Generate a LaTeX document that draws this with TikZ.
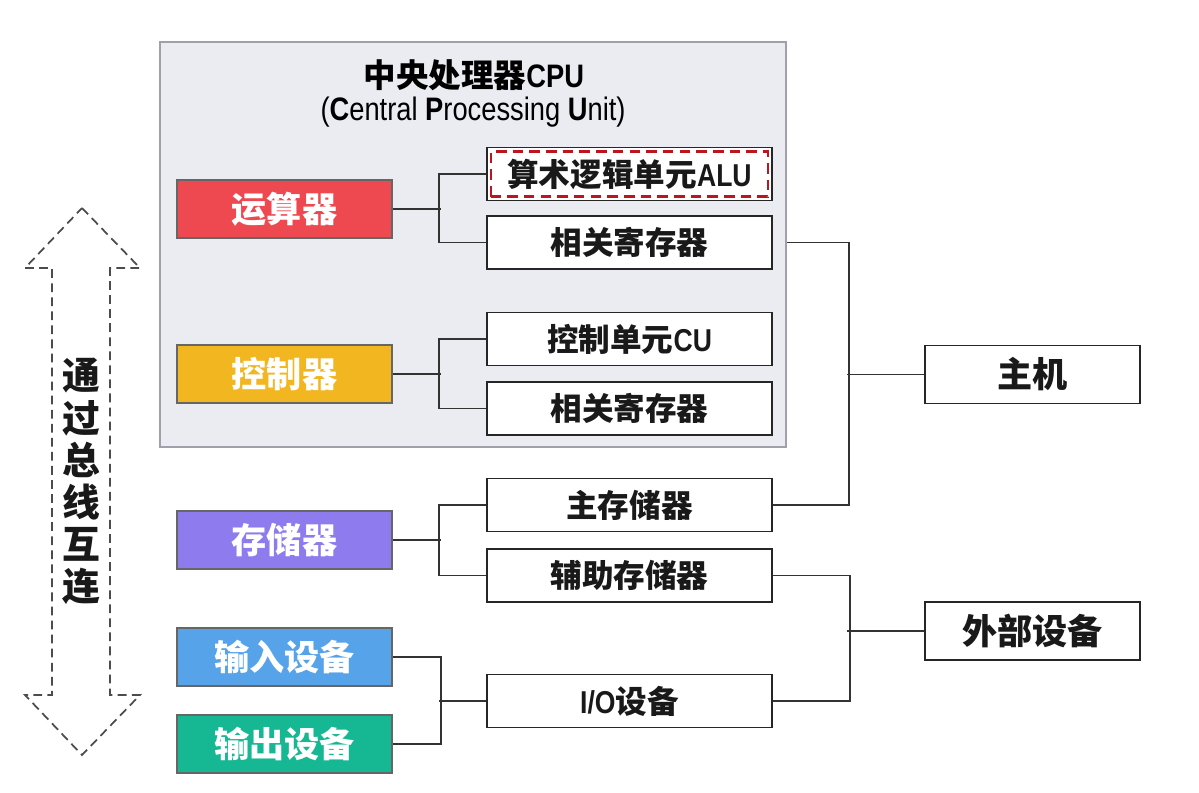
\documentclass[tikz,border=0pt]{standalone}
\usepackage{fontspec}
\newfontfamily\cjk{Noto Sans CJK SC}
\newfontfamily\narrowfont[FakeStretch=0.84]{Liberation Sans}
\usetikzlibrary{calc}
\definecolor{ysqred}{RGB}{238,72,80}
\definecolor{ctlyellow}{RGB}{242,182,32}
\definecolor{mempurple}{RGB}{142,124,238}
\definecolor{inblue}{RGB}{86,163,234}
\definecolor{outgreen}{RGB}{22,184,148}
\definecolor{cpubg}{RGB}{235,235,242}
\definecolor{cpuline}{RGB}{160,160,170}
\definecolor{aludash}{RGB}{190,20,30}

\begin{document}
\begin{tikzpicture}[x=0.02cm,y=-0.02cm,line width=1.1pt,
colbox/.style={draw=black!60,minimum width=4.3cm,minimum height=1.16cm,text=white,
  font=\cjk\bfseries\fontsize{20}{24}\selectfont},
partbox/.style={draw=black!85,fill=white,minimum width=5.7cm,minimum height=1.06cm,
  text=black!90,font=\cjk\bfseries\fontsize{18}{22}\selectfont},
sysbox/.style={partbox,minimum width=4.3cm,minimum height=1.16cm,
  font=\cjk\bfseries\fontsize{20}{24}\selectfont}]
\useasboundingbox(0,0)rectangle(1199,793);
% CPU frame
\node[draw=cpuline,fill=cpubg,minimum width=12.52cm,minimum height=8.1cm](cpu)at(473,244.5){};
\node[font=\cjk\bfseries\fontsize{18.5}{22}\selectfont](cputitle)at(474,75){中央处理器{\narrowfont CPU}};
\node[font=\narrowfont\fontsize{18.5}{22}\selectfont](cpusub)at(473,112)
{(\textbf{C}entral \textbf{P}rocessing \textbf{U}nit)};
% left column
\node[colbox,fill=ysqred](ysq)at(284.5,209){运算器};
\node[colbox,fill=ctlyellow](ctl)at(284.5,374){控制器};
\node[colbox,fill=mempurple](mem)at(284.5,540){存储器};
\node[colbox,fill=inblue](in)at(284.5,657){输入设备};
\node[colbox,fill=outgreen](out)at(284.5,744){输出设备};
% middle column
\node[partbox](alu)at(629.5,174){算术逻辑单元{\narrowfont ALU}};
\draw[aludash,dash pattern=on 6pt off 3.5pt,line width=1.6pt]
([xshift=2.8pt,yshift=2.8pt]alu.south west)rectangle([xshift=-2.8pt,yshift=-2.8pt]alu.north east);
\node[partbox](reg1)at(629.5,242.5){相关寄存器};
\node[partbox](cu)at(629.5,339){控制单元{\narrowfont CU}};
\node[partbox](reg2)at(629.5,408.5){相关寄存器};
\node[partbox](mainmem)at(629.5,505){主存储器};
\node[partbox](auxmem)at(629.5,575.5){辅助存储器};
\node[partbox](io)at(629.5,701){{\narrowfont I/O}设备};
% right column
\node[sysbox](host)at(1032.5,374.5){主机};
\node[sysbox](ext)at(1032.5,631){外部设备};
% brackets
\draw[black!80](alu.west)--++(-47,0)|-(reg1.west);
\draw[black!80](ysq.east)--++(48,0);
\draw[black!80](cu.west)--++(-47,0)|-(reg2.west);
\draw[black!80](ctl.east)--++(48,0);
\draw[black!80](mainmem.west)--++(-47,0)|-(auxmem.west);
\draw[black!80](mem.east)--++(48,0);
\draw[black!80](in.east)--++(48,0)|-(out.east);
\draw[black!80](io.west)--++(-47,0);
\draw[black!80](cpu.east|-reg1.east)--++(62,0)|-(mainmem.east);
\draw[black!80](host.west)--++(-77,0);
\draw[black!80](auxmem.east)--++(77,0)|-(io.east);
\draw[black!80](ext.west)--++(-77,0);
% bus arrow
\draw[black!70,dash pattern=on 5pt off 3pt,line width=1pt]
(82,208)--(140,268)--(110,268)--(110,695)--(140,695)--(82,755)--(25,695)--(52,695)--(52,268)--(25,268)--cycle;
\foreach \c [count=\i] in {通,过,总,线,互,连}
\node[font=\cjk\bfseries\fontsize{21.5}{24}\selectfont,text=black!90](bus\i)at(81,334+42*\i){\c};
\end{tikzpicture}
\end{document}
